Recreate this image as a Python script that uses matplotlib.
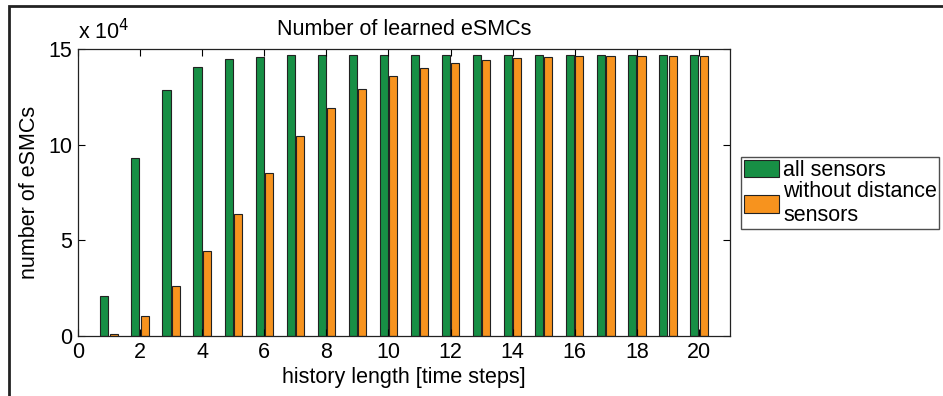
import numpy as np
import matplotlib.pyplot as plt
from matplotlib.patches import Rectangle

plt.rcParams['font.family'] = ['Liberation Sans', 'DejaVu Sans']

steps = np.arange(1, 21)
# learned eSMCs, in units of 10^4
all_sensors = [2.1, 9.32, 12.87, 14.04, 14.46, 14.6, 14.67, 14.69, 14.7, 14.7,
               14.7, 14.7, 14.7, 14.7, 14.7, 14.7, 14.7, 14.7, 14.7, 14.7]
no_distance = [0.1, 1.05, 2.63, 4.43, 6.38, 8.5, 10.44, 11.9, 12.91, 13.57,
               13.99, 14.25, 14.41, 14.52, 14.58, 14.62, 14.64, 14.65, 14.65, 14.65]

green = '#178f45'
orange = '#f7931e'
width = 0.26
fs = 15.5

fig = plt.figure(figsize=(9.43, 3.96), dpi=100)
ax = fig.add_axes([78/943, 1 - 336/396, 652/943, 287/396])

b1 = ax.bar(steps - 0.15, all_sensors, width, color=green, edgecolor='#222222', linewidth=0.8)
b2 = ax.bar(steps + 0.15, no_distance, width, color=orange, edgecolor='#222222', linewidth=0.8)

ax.set_xlim(0, 21)
ax.set_ylim(0, 15)
ax.set_xticks(np.arange(0, 21, 2))
ax.set_yticks([0, 5, 10, 15])
ax.tick_params(direction='in', top=True, right=True, labelsize=fs, length=5, width=0.8, pad=4)
for s in ax.spines.values():
    s.set_linewidth(0.9)
    s.set_color('#222222')

ax.set_title('Number of learned eSMCs', fontsize=fs, pad=10)
ax.set_xlabel('history length [time steps]', fontsize=fs, labelpad=3)
ax.set_ylabel('number of eSMCs', fontsize=fs, labelpad=6)
ax.text(0.0, 1.015, r'x 10$^4$', transform=ax.transAxes, fontsize=fs, ha='left', va='bottom')

ax.legend((b1[0], b2[0]), ('all sensors', 'without distance\nsensors'),
          loc='upper left', bbox_to_anchor=(741/943, 1 - 157/396), bbox_transform=fig.transFigure,
          fontsize=fs, frameon=True, fancybox=False, edgecolor='#222222',
          handlelength=1.63, handleheight=0.9, handletextpad=0.2, borderpad=0.12,
          labelspacing=0.0, borderaxespad=0)

# outer frame of the figure
fig.patches.append(Rectangle((9/943, -0.1), 1.2, 1 - 6/396 + 0.1, transform=fig.transFigure,
                             fill=False, edgecolor='#222222', linewidth=2))

plt.savefig('out.png', dpi=100)
